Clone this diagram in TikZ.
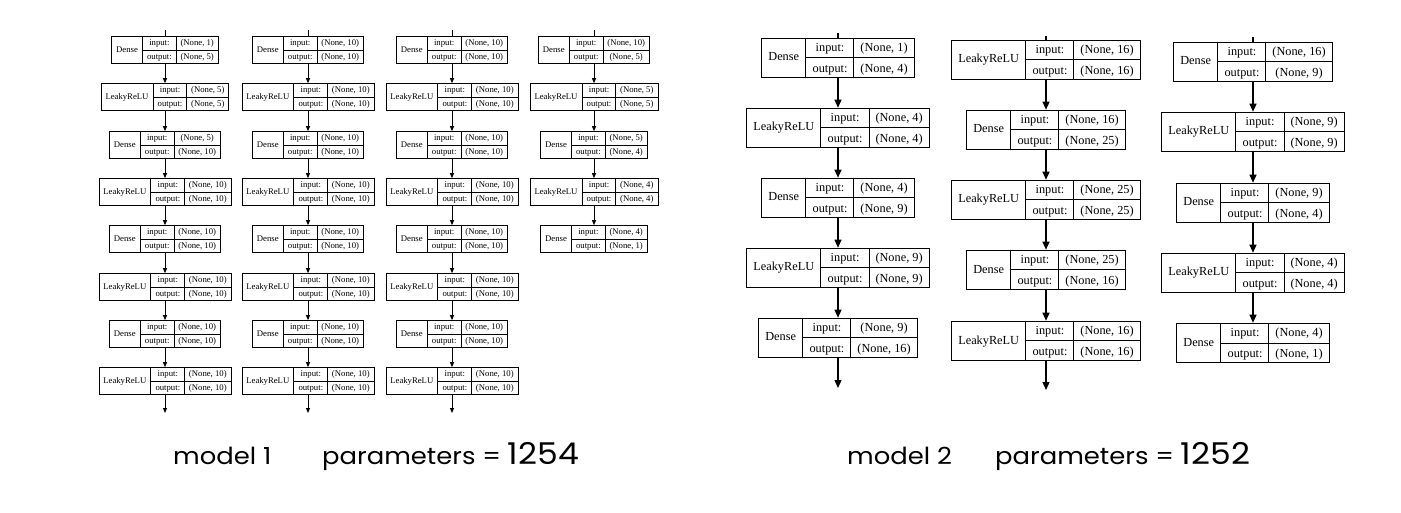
\documentclass[tikz,border=0pt]{standalone}
\usepackage{fontspec}
\setmainfont{Liberation Serif}
\newfontfamily\capfont{Poppins}[FakeStretch=1.1]
\usetikzlibrary{arrows.meta,positioning}

% record: layer | input/output | shapes
\newcommand{\layerrec}[3]{%
  \begin{tabular}{c|@{}c@{}}
    #1 & \begin{tabular}{c|c}
           input: & (None, #2)\\ \hline
           output: & (None, #3)
         \end{tabular}
  \end{tabular}}

\tikzset{
  small rec/.style={draw, line width=0.8pt, inner sep=0pt,
    font=\fontsize{8.7}{13}\selectfont,
    execute at begin node={\setlength{\tabcolsep}{4.4pt}\setlength{\arrayrulewidth}{0.8pt}}},
  big rec/.style={draw, line width=1pt, inner sep=0pt,
    font=\fontsize{12.3}{19.3}\selectfont,
    execute at begin node={\setlength{\tabcolsep}{6.5pt}\setlength{\arrayrulewidth}{1pt}}},
  small flow/.style={draw, line width=0.9pt, -{Triangle[length=5pt,width=4pt]}},
  big flow/.style={draw, line width=1.2pt, -{Triangle[length=8pt,width=7pt]}},
  caption/.style={anchor=base west, inner sep=0pt, font=\capfont\fontsize{23.5}{23.5}\selectfont}
}

\begin{document}
\begin{tikzpicture}[x=1pt,y=-1pt]
    \useasboundingbox (0,0) rectangle (1401,513);

    %Model 1, column 1
     \begin{scope}[every node/.style={small rec}]
       \node (dA1) at (165,50) {\layerrec{Dense}{1}{5}};
       \node (rA1) at (165,97) {\layerrec{LeakyReLU}{5}{5}};
       \node (dA2) at (165,145) {\layerrec{Dense}{5}{10}};
       \node (rA2) at (165,192) {\layerrec{LeakyReLU}{10}{10}};
       \node (dA3) at (165,239) {\layerrec{Dense}{10}{10}};
       \node (rA3) at (165,287) {\layerrec{LeakyReLU}{10}{10}};
       \node (dA4) at (165,334) {\layerrec{Dense}{10}{10}};
       \node (rA4) at (165,381) {\layerrec{LeakyReLU}{10}{10}};
    \end{scope}
    \coordinate (inA) at (165,30);
    \coordinate (outA) at (165,413);

    %Model 1, column 2
     \begin{scope}[every node/.style={small rec}]
       \node (dB1) at (308,50) {\layerrec{Dense}{10}{10}};
       \node (rB1) at (308,97) {\layerrec{LeakyReLU}{10}{10}};
       \node (dB2) at (308,145) {\layerrec{Dense}{10}{10}};
       \node (rB2) at (308,192) {\layerrec{LeakyReLU}{10}{10}};
       \node (dB3) at (308,239) {\layerrec{Dense}{10}{10}};
       \node (rB3) at (308,287) {\layerrec{LeakyReLU}{10}{10}};
       \node (dB4) at (308,334) {\layerrec{Dense}{10}{10}};
       \node (rB4) at (308,381) {\layerrec{LeakyReLU}{10}{10}};
    \end{scope}
    \coordinate (inB) at (308,30);
    \coordinate (outB) at (308,413);

    %Model 1, column 3
     \begin{scope}[every node/.style={small rec}]
       \node (dC1) at (452,50) {\layerrec{Dense}{10}{10}};
       \node (rC1) at (452,97) {\layerrec{LeakyReLU}{10}{10}};
       \node (dC2) at (452,145) {\layerrec{Dense}{10}{10}};
       \node (rC2) at (452,192) {\layerrec{LeakyReLU}{10}{10}};
       \node (dC3) at (452,239) {\layerrec{Dense}{10}{10}};
       \node (rC3) at (452,287) {\layerrec{LeakyReLU}{10}{10}};
       \node (dC4) at (452,334) {\layerrec{Dense}{10}{10}};
       \node (rC4) at (452,381) {\layerrec{LeakyReLU}{10}{10}};
    \end{scope}
    \coordinate (inC) at (452,30);
    \coordinate (outC) at (452,413);

    %Model 1, column 4
     \begin{scope}[every node/.style={small rec}]
       \node (dD1) at (594,50) {\layerrec{Dense}{10}{5}};
       \node (rD1) at (594,97) {\layerrec{LeakyReLU}{5}{5}};
       \node (dD2) at (594,145) {\layerrec{Dense}{5}{4}};
       \node (rD2) at (594,192) {\layerrec{LeakyReLU}{4}{4}};
       \node (dD3) at (594,239) {\layerrec{Dense}{4}{1}};
    \end{scope}
    \coordinate (inD) at (594,30);

    \begin{scope}[every edge/.style={small flow}]
      \path (inA) edge[-] (dA1);
      \path (dA1) edge (rA1);
      \path (rA1) edge (dA2);
      \path (dA2) edge (rA2);
      \path (rA2) edge (dA3);
      \path (dA3) edge (rA3);
      \path (rA3) edge (dA4);
      \path (dA4) edge (rA4);
      \path (rA4) edge (outA);
      \path (inB) edge[-] (dB1);
      \path (dB1) edge (rB1);
      \path (rB1) edge (dB2);
      \path (dB2) edge (rB2);
      \path (rB2) edge (dB3);
      \path (dB3) edge (rB3);
      \path (rB3) edge (dB4);
      \path (dB4) edge (rB4);
      \path (rB4) edge (outB);
      \path (inC) edge[-] (dC1);
      \path (dC1) edge (rC1);
      \path (rC1) edge (dC2);
      \path (dC2) edge (rC2);
      \path (rC2) edge (dC3);
      \path (dC3) edge (rC3);
      \path (rC3) edge (dC4);
      \path (dC4) edge (rC4);
      \path (rC4) edge (outC);
      \path (inD) edge[-] (dD1);
      \path (dD1) edge (rD1);
      \path (rD1) edge (dD2);
      \path (dD2) edge (rD2);
      \path (rD2) edge (dD3);
    \end{scope}

    %Model 2, column 1
     \begin{scope}[every node/.style={big rec}]
       \node (dE1) at (838,58) {\layerrec{Dense}{1}{4}};
       \node (rE1) at (838,128) {\layerrec{LeakyReLU}{4}{4}};
       \node (dE2) at (838,198) {\layerrec{Dense}{4}{9}};
       \node (rE2) at (838,268) {\layerrec{LeakyReLU}{9}{9}};
       \node (dE3) at (838,338) {\layerrec{Dense}{9}{16}};
    \end{scope}
    \coordinate (inE) at (838,33);
    \coordinate (outE) at (838,388);

    %Model 2, column 2
     \begin{scope}[every node/.style={big rec}]
       \node (rF1) at (1046,60) {\layerrec{LeakyReLU}{16}{16}};
       \node (dF1) at (1046,130) {\layerrec{Dense}{16}{25}};
       \node (rF2) at (1046,200) {\layerrec{LeakyReLU}{25}{25}};
       \node (dF2) at (1046,270) {\layerrec{Dense}{25}{16}};
       \node (rF3) at (1046,341) {\layerrec{LeakyReLU}{16}{16}};
    \end{scope}
    \coordinate (inF) at (1046,36);
    \coordinate (outF) at (1046,390);

    %Model 2, column 3
     \begin{scope}[every node/.style={big rec}]
       \node (dG1) at (1253,62) {\layerrec{Dense}{16}{9}};
       \node (rG1) at (1253,132) {\layerrec{LeakyReLU}{9}{9}};
       \node (dG2) at (1253,203) {\layerrec{Dense}{9}{4}};
       \node (rG2) at (1253,273) {\layerrec{LeakyReLU}{4}{4}};
       \node (dG3) at (1253,343) {\layerrec{Dense}{4}{1}};
    \end{scope}
    \coordinate (inG) at (1253,37);

    \begin{scope}[every edge/.style={big flow}]
      \path (inE) edge[-] (dE1);
      \path (dE1) edge (rE1);
      \path (rE1) edge (dE2);
      \path (dE2) edge (rE2);
      \path (rE2) edge (dE3);
      \path (dE3) edge (outE);
      \path (inF) edge[-] (rF1);
      \path (rF1) edge (dF1);
      \path (dF1) edge (rF2);
      \path (rF2) edge (dF2);
      \path (dF2) edge (rF3);
      \path (rF3) edge (outF);
      \path (inG) edge[-] (dG1);
      \path (dG1) edge (rG1);
      \path (rG1) edge (dG2);
      \path (dG2) edge (rG2);
      \path (rG2) edge (dG3);
    \end{scope}

    %Captions
    \node[caption] (name1) at (173,464) {model 1};
    \node[caption] (par1) at (322,464) {parameters = {\fontsize{30}{30}\selectfont 1254}};
    \node[caption] (name2) at (847,464) {model 2};
    \node[caption] (par2) at (995,464) {parameters = {\fontsize{30}{30}\selectfont 1252}};
  \end{tikzpicture}
\end{document}
